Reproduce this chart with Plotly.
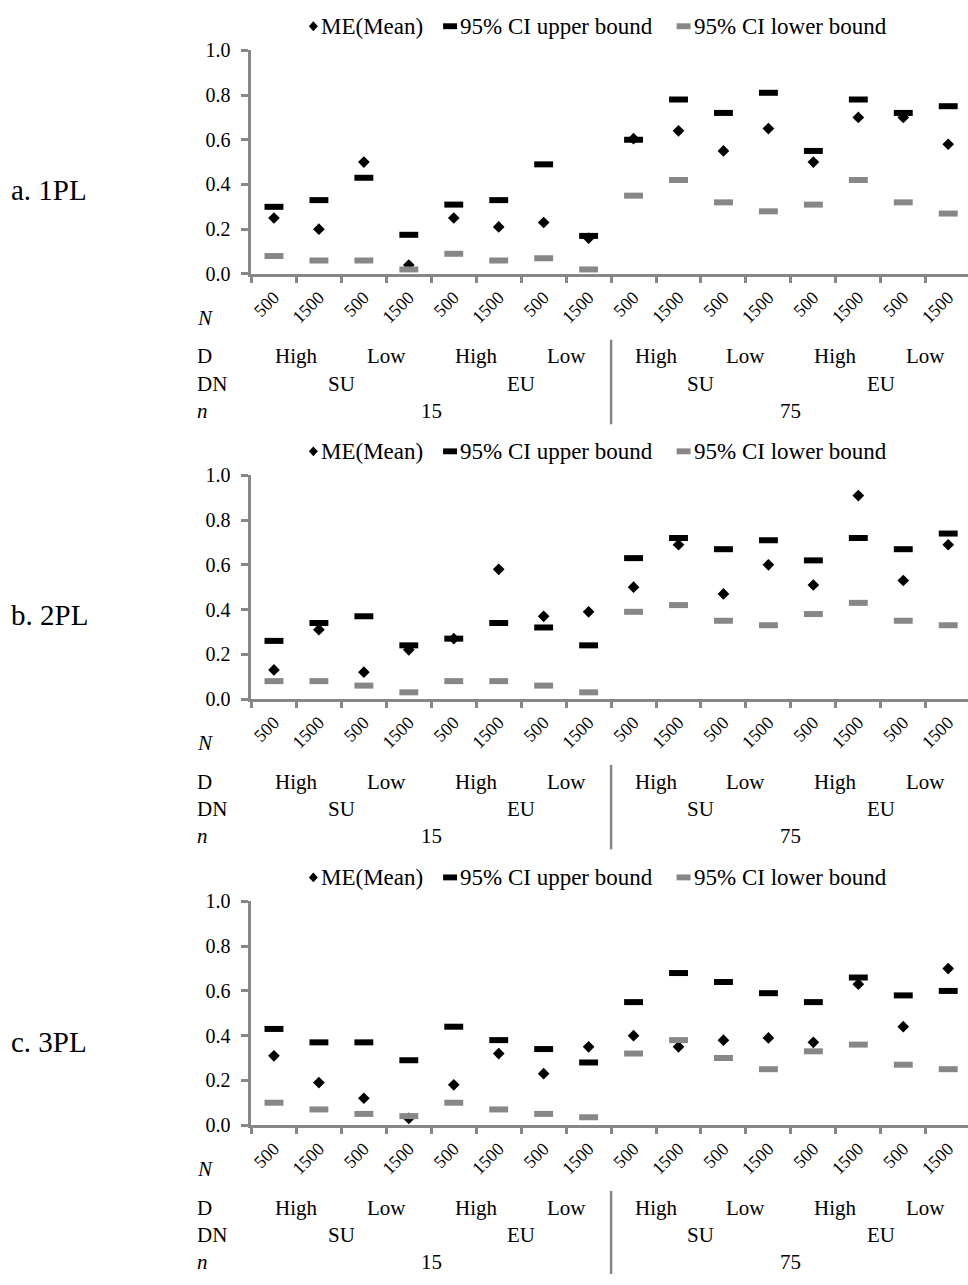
import plotly.graph_objects as go

# ---------------- data ----------------
N_LABELS = ["500", "1500", "500", "1500", "500", "1500", "500", "1500",
            "500", "1500", "500", "1500", "500", "1500", "500", "1500"]
D_GROUPS = ["High", "Low", "High", "Low", "High", "Low", "High", "Low"]   # 2 categories each
DN_GROUPS = ["SU", "EU", "SU", "EU"]                                      # 4 categories each
SMALL_N_GROUPS = ["15", "75"]                                             # 8 categories each

PANEL_TITLES = ["a. 1PL", "b. 2PL", "c. 3PL"]
SERIES_NAMES = ["ME(Mean)", "95% CI upper bound", "95% CI lower bound"]

MEAN_1PL = [0.25, 0.20, 0.50, 0.04, 0.25, 0.21, 0.23, 0.16, 0.605, 0.64, 0.55, 0.65, 0.50, 0.70, 0.70, 0.58]
UPPER_1PL = [0.30, 0.33, 0.43, 0.175, 0.31, 0.33, 0.49, 0.17, 0.60, 0.78, 0.72, 0.81, 0.55, 0.78, 0.72, 0.75]
LOWER_1PL = [0.08, 0.06, 0.06, 0.02, 0.09, 0.06, 0.07, 0.02, 0.35, 0.42, 0.32, 0.28, 0.31, 0.42, 0.32, 0.27]

MEAN_2PL = [0.13, 0.31, 0.12, 0.22, 0.27, 0.58, 0.37, 0.39, 0.50, 0.69, 0.47, 0.60, 0.51, 0.91, 0.53, 0.69]
UPPER_2PL = [0.26, 0.34, 0.37, 0.24, 0.27, 0.34, 0.32, 0.24, 0.63, 0.72, 0.67, 0.71, 0.62, 0.72, 0.67, 0.74]
LOWER_2PL = [0.08, 0.08, 0.06, 0.03, 0.08, 0.08, 0.06, 0.03, 0.39, 0.42, 0.35, 0.33, 0.38, 0.43, 0.35, 0.33]

MEAN_3PL = [0.31, 0.19, 0.12, 0.03, 0.18, 0.32, 0.23, 0.35, 0.40, 0.35, 0.38, 0.39, 0.37, 0.63, 0.44, 0.70]
UPPER_3PL = [0.43, 0.37, 0.37, 0.29, 0.44, 0.38, 0.34, 0.28, 0.55, 0.68, 0.64, 0.59, 0.55, 0.66, 0.58, 0.60]
LOWER_3PL = [0.10, 0.07, 0.05, 0.04, 0.10, 0.07, 0.05, 0.035, 0.32, 0.38, 0.30, 0.25, 0.33, 0.36, 0.27, 0.25]

PANEL_DATA = [(MEAN_1PL, UPPER_1PL, LOWER_1PL),
              (MEAN_2PL, UPPER_2PL, LOWER_2PL),
              (MEAN_3PL, UPPER_3PL, LOWER_3PL)]

# ---------------- layout constants ----------------
W, H = 968, 1285
FONT = "Liberation Serif"
GREY = "#878787"
PANEL_ZERO_PX = [267.5, 700.0, 1133.5]
PANEL_H_PX = 227.5
LEFT_PX = 250
LEG_MARK_X = [312, 449, 683]
LEG_TEXT_X = [319, 458, 692]

# unique category ids (one per simulated condition)
CATS = []
for i in range(16):
    CATS.append(f"{SMALL_N_GROUPS[i // 8]}|{DN_GROUPS[i // 4]}|{D_GROUPS[i // 2]}|{N_LABELS[i]}|{i}")


def py(px):
    return 1 - px / H


def px_(x):
    return x / W


fig = go.Figure()
annotations = []
shapes = []
layout_axes = {}

for p in range(3):
    mean, upper, lower = PANEL_DATA[p]
    sfx = "" if p == 0 else str(p + 1)
    xa, ya = "x" + sfx, "y" + sfx
    zero = PANEL_ZERO_PX[p]

    fig.add_trace(go.Scatter(x=CATS, y=mean, mode="markers", name=SERIES_NAMES[0],
                             marker=dict(symbol="diamond", size=9, color="black"),
                             xaxis=xa, yaxis=ya, showlegend=False, cliponaxis=False))
    fig.add_trace(go.Scatter(x=CATS, y=upper, mode="markers", name=SERIES_NAMES[1],
                             marker=dict(symbol="line-ew", size=13.5, color="black",
                                         line=dict(color="black", width=6)),
                             xaxis=xa, yaxis=ya, showlegend=False, cliponaxis=False))
    fig.add_trace(go.Scatter(x=CATS, y=lower, mode="markers", name=SERIES_NAMES[2],
                             marker=dict(symbol="line-ew", size=13.5, color=GREY,
                                         line=dict(color=GREY, width=6)),
                             xaxis=xa, yaxis=ya, showlegend=False, cliponaxis=False))

    dom_y = [py(zero), py(zero - PANEL_H_PX)]
    layout_axes["xaxis" + sfx] = dict(
        domain=[LEFT_PX / W, 1.0], anchor=ya, type="category",
        categoryorder="array", categoryarray=CATS,
        range=[-0.5, 15.44], tickmode="array", tickvals=CATS, ticktext=N_LABELS,
        tickson="boundaries", ticks="outside", ticklen=6, tickwidth=2.5, tickcolor=GREY,
        showline=True, linecolor=GREY, linewidth=3, showgrid=False, zeroline=False,
        tickangle=-45, tickfont=dict(family=FONT, size=18, color="black"),
        ticklabelstandoff=3,
    )
    layout_axes["yaxis" + sfx] = dict(
        domain=dom_y, anchor=xa, range=[0, 1], dtick=0.2, tick0=0, tickformat=".1f",
        ticks="outside", ticklen=7, tickwidth=2.5, tickcolor=GREY,
        showline=True, linecolor=GREY, linewidth=3, showgrid=False, zeroline=False,
        tickfont=dict(family=FONT, size=20, color="black"), ticklabelstandoff=7,
    )

    # ---- legend (drawn per panel) ----
    ly = zero - 252
    mx = LEG_MARK_X[0]
    shapes.append(dict(type="path", xref="paper", yref="paper", line=dict(width=0),
                       fillcolor="black",
                       path=(f"M {px_(mx - 4.5)} {py(ly)} L {px_(mx)} {py(ly - 5)} "
                             f"L {px_(mx + 4.5)} {py(ly)} L {px_(mx)} {py(ly + 5)} Z")))
    for k, col in [(1, "black"), (2, GREY)]:
        mx = LEG_MARK_X[k]
        shapes.append(dict(type="rect", xref="paper", yref="paper", line=dict(width=0),
                           fillcolor=col, x0=px_(mx - 7), x1=px_(mx + 7),
                           y0=py(ly + 3), y1=py(ly - 3)))
    for k in range(3):
        annotations.append(dict(text=SERIES_NAMES[k], x=px_(LEG_TEXT_X[k]), y=py(ly),
                                xref="paper", yref="paper", xanchor="left", yanchor="middle",
                                showarrow=False, borderpad=0,
                                font=dict(family=FONT, size=23, color="black")))

    # panel title on the left
    annotations.append(dict(text=PANEL_TITLES[p], x=px_(8), y=py(zero - 85), xref="paper", yref="paper",
                            xanchor="left", yanchor="middle", showarrow=False, borderpad=0,
                            font=dict(family=FONT, size=29, color="black")))
    # row labels
    for txt, off in [("<i>N</i>", 45), ("D", 84), ("DN", 112), ("<i>n</i>", 139)]:
        annotations.append(dict(text=txt, x=px_(194), y=py(zero + off), xref="paper", yref="paper",
                                xanchor="left", yanchor="middle", showarrow=False, borderpad=0,
                                font=dict(family=FONT, size=21, color="black")))
    # group labels
    for g, lab in enumerate(D_GROUPS):
        annotations.append(dict(text=lab, x=2 * g + 0.5, y=py(zero + 84), xref=xa, yref="paper",
                                xanchor="center", yanchor="middle", showarrow=False,
                                font=dict(family=FONT, size=21, color="black")))
    for g, lab in enumerate(DN_GROUPS):
        annotations.append(dict(text=lab, x=4 * g + 1.5, y=py(zero + 112), xref=xa, yref="paper",
                                xanchor="center", yanchor="middle", showarrow=False,
                                font=dict(family=FONT, size=21, color="black")))
    for g, lab in enumerate(SMALL_N_GROUPS):
        annotations.append(dict(text=lab, x=8 * g + 3.5, y=py(zero + 139), xref=xa, yref="paper",
                                xanchor="center", yanchor="middle", showarrow=False,
                                font=dict(family=FONT, size=21, color="black")))
    # separator between n = 15 and n = 75
    shapes.append(dict(type="line", xref=xa, yref="paper", x0=7.5, x1=7.5,
                       y0=py(zero + 67), y1=py(min(zero + 153, H)),
                       line=dict(color=GREY, width=2.5)))

fig.update_layout(
    width=W, height=H, margin=dict(l=0, r=0, t=0, b=0),
    paper_bgcolor="white", plot_bgcolor="white",
    font=dict(family=FONT, size=20, color="black"),
    annotations=annotations, shapes=shapes, showlegend=False,
    **layout_axes,
)

fig.write_html("out.html")
